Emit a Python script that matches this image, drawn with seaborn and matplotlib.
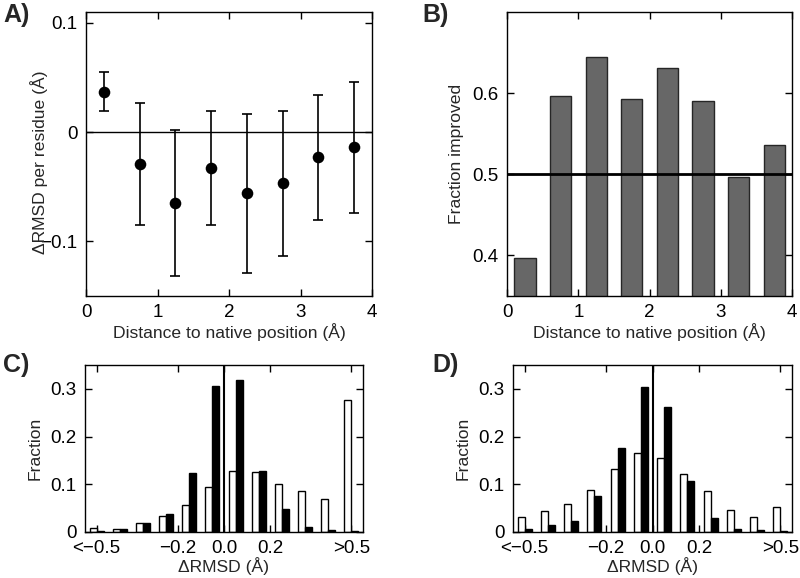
import matplotlib
matplotlib.use('Agg')
import matplotlib.pyplot as plt
import pandas as pd
import seaborn as sns

# A) mean dRMSD per residue vs distance to native position (with SD)
dist = [0.25, 0.75, 1.25, 1.75, 2.25, 2.75, 3.25, 3.75]
drmsd_mean = [0.037, -0.029, -0.065, -0.033, -0.056, -0.047, -0.023, -0.014]
drmsd_sd = [0.018, 0.056, 0.067, 0.052, 0.073, 0.066, 0.057, 0.060]

# B) fraction of cases improved per distance bin
frac_improved = [0.397, 0.596, 0.644, 0.593, 0.631, 0.590, 0.497, 0.536]

# C) and D) dRMSD histograms (open and filled bars)
bin_centers = [-0.55, -0.45, -0.35, -0.25, -0.15, -0.05, 0.05, 0.15, 0.25, 0.35, 0.45, 0.55]
c_open = [0.008, 0.006, 0.018, 0.034, 0.056, 0.094, 0.128, 0.126, 0.101, 0.085, 0.070, 0.277]
c_filled = [0.003, 0.007, 0.018, 0.037, 0.124, 0.306, 0.319, 0.128, 0.048, 0.010, 0.004, 0.002]
d_open = [0.032, 0.043, 0.058, 0.087, 0.131, 0.165, 0.156, 0.121, 0.085, 0.047, 0.032, 0.053]
d_filled = [0.007, 0.014, 0.024, 0.076, 0.175, 0.303, 0.261, 0.107, 0.030, 0.007, 0.004, 0.003]
hist_ticks = [-0.55, -0.2, 0.0, 0.2, 0.55]
hist_ticklabels = ['<\u22120.5', '\u22120.2', '0.0', '0.2', '>0.5']

sns.set_theme(style='ticks')
plt.rcParams['font.family'] = ['Liberation Sans', 'DejaVu Sans']
plt.rcParams['axes.unicode_minus'] = True

FS = 12.6     # axis labels
TFS = 13.5    # tick labels


def style_axes(ax):
    ax.tick_params(direction='in', top=True, right=True, length=5, width=1,
                   labelsize=TFS, pad=6, colors='black')
    for s in ax.spines.values():
        s.set_linewidth(1)
        s.set_color('black')


fig = plt.figure(figsize=(8, 5.78), dpi=100)
axA = fig.add_axes([0.1075, 0.4879, 0.3575, 0.4913])
axB = fig.add_axes([0.634, 0.4879, 0.356, 0.4913])
axC = fig.add_axes([0.10625, 0.0796, 0.3475, 0.2889])
axD = fig.add_axes([0.64125, 0.0796, 0.34875, 0.2889])

# --- A
axA.axhline(0, color='black', lw=1, zorder=1)
axA.errorbar(dist, drmsd_mean, yerr=drmsd_sd, fmt='none', ecolor='black',
             elinewidth=1.2, capsize=3.5, capthick=1.2, zorder=2)
sns.scatterplot(x=dist, y=drmsd_mean, ax=axA, s=70, color='black',
                edgecolor='black', linewidth=0, zorder=3, legend=False)
axA.set_xlim(0, 4)
axA.set_ylim(-0.15, 0.11)
axA.set_xticks([0, 1, 2, 3, 4])
axA.set_xticklabels(['0', '1', '2', '3', '4'])
axA.set_yticks([-0.1, 0, 0.1])
axA.set_yticklabels(['\u22120.1', '0', '0.1'])
axA.set_xlabel('Distance to native position (\u00c5)', fontsize=FS, labelpad=1)
axA.set_ylabel('\u0394RMSD per residue (\u00c5)', fontsize=FS)
axA.yaxis.set_label_coords(-0.133, 0.47)
style_axes(axA)

# --- B
sns.barplot(x=dist, y=frac_improved, ax=axB, native_scale=True, width=0.6,
            color='#676767', saturation=1, edgecolor='#262626', linewidth=1,
            errorbar=None)
axB.axhline(0.5, color='black', lw=2, zorder=3)
axB.set_xlim(0, 4)
axB.set_ylim(0.35, 0.7)
axB.set_xticks([0, 1, 2, 3, 4])
axB.set_xticklabels(['0', '1', '2', '3', '4'])
axB.set_yticks([0.4, 0.5, 0.6])
axB.set_yticklabels(['0.4', '0.5', '0.6'])
axB.set_xlabel('Distance to native position (\u00c5)', fontsize=FS, labelpad=1)
axB.set_ylabel('Fraction improved', fontsize=FS)
axB.yaxis.set_label_coords(-0.151, 0.5)
style_axes(axB)


# --- C, D
def hist_panel(ax, open_vals, filled_vals):
    df = pd.DataFrame({
        'bin': bin_centers + bin_centers,
        'fraction': open_vals + filled_vals,
        'series': ['open'] * len(bin_centers) + ['filled'] * len(bin_centers),
    })
    sns.barplot(data=df, x='bin', y='fraction', hue='series', hue_order=['open', 'filled'],
                palette={'open': 'white', 'filled': 'black'}, native_scale=True,
                width=0.6, saturation=1, edgecolor='black', linewidth=1,
                errorbar=None, legend=False, ax=ax)
    ax.axvline(0, color='black', lw=1.5, zorder=3)
    ax.set_xlim(-0.6, 0.6)
    ax.set_ylim(0, 0.35)
    ax.set_xticks(hist_ticks)
    ax.set_xticklabels(hist_ticklabels)
    ax.set_yticks([0, 0.1, 0.2, 0.3])
    ax.set_yticklabels(['0', '0.1', '0.2', '0.3'])
    ax.set_xlabel('\u0394RMSD (\u00c5)', fontsize=FS, labelpad=0)
    ax.set_ylabel('Fraction', fontsize=FS)
    ax.yaxis.set_label_coords(-0.151, 0.5)
    style_axes(ax)


hist_panel(axC, c_open, c_filled)
hist_panel(axD, d_open, d_filled)

# panel letters
for lab, x, y in [('A)', 3, 3), ('B)', 422, 3), ('C)', 3, 353), ('D)', 432, 353)]:
    fig.text(x / 800, 1 - y / 578, lab, fontsize=18, fontweight='bold',
             ha='left', va='top')

fig.savefig('out.png', dpi=100)
